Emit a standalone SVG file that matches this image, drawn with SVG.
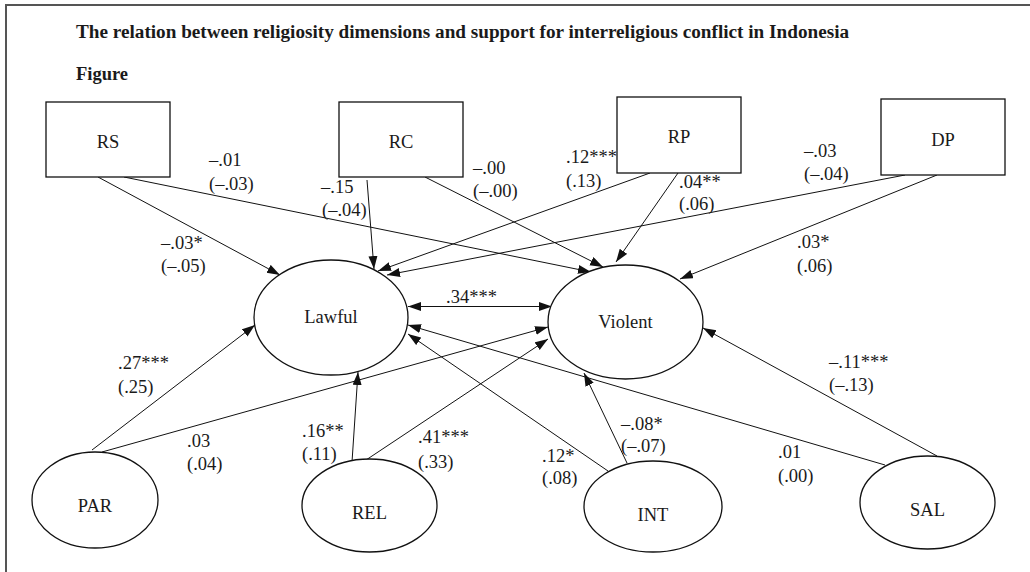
<svg xmlns="http://www.w3.org/2000/svg" width="1030" height="572" viewBox="0 0 1030 572">
<style>
text{font-family:"Liberation Serif","Times New Roman",serif;fill:#1a1a1a;font-size:18.5px}
.title{font-weight:bold}
.t1{font-size:19.2px}
.nd rect,.nd ellipse{fill:#fff;stroke:#111;stroke-width:1.3}
.nl{text-anchor:middle}
.edges line{stroke:#111;stroke-width:1}
.frame{stroke:#555;stroke-width:2;fill:none}
</style>
<defs>
<marker id="ah" markerUnits="userSpaceOnUse" markerWidth="14" markerHeight="10" refX="13" refY="4.5" orient="auto-start-reverse">
<path d="M0,0 L13,4.5 L0,9 z" fill="#111"/>
</marker>
</defs>
<rect width="1030" height="572" fill="#fff"/>
<path class="frame" d="M6,572 V5 H1030"/>
<text class="title t1" x="76" y="38">The relation between religiosity dimensions and support for interreligious conflict in Indonesia</text>
<text class="title" x="76" y="80">Figure</text>

<g class="edges">
<line x1="98" y1="177" x2="280" y2="275" marker-end="url(#ah)"/>
<line x1="124" y1="177" x2="591" y2="272" marker-end="url(#ah)"/>
<line x1="367" y1="180" x2="374" y2="269" marker-end="url(#ah)"/>
<line x1="425" y1="177" x2="603" y2="267" marker-end="url(#ah)"/>
<line x1="650" y1="173" x2="378" y2="271" marker-end="url(#ah)"/>
<line x1="678" y1="173" x2="616" y2="262" marker-end="url(#ah)"/>
<line x1="905" y1="175" x2="387" y2="275" marker-end="url(#ah)"/>
<line x1="937" y1="175" x2="680" y2="279" marker-end="url(#ah)"/>
<line x1="408" y1="306.5" x2="552" y2="306.5" marker-start="url(#ah)" marker-end="url(#ah)"/>
<line x1="92" y1="450" x2="255" y2="325" marker-end="url(#ah)"/>
<line x1="102" y1="452" x2="548" y2="327" marker-end="url(#ah)"/>
<line x1="352" y1="462" x2="358" y2="372" marker-end="url(#ah)"/>
<line x1="366" y1="460" x2="548" y2="339" marker-end="url(#ah)"/>
<line x1="608" y1="471" x2="408" y2="334" marker-end="url(#ah)"/>
<line x1="627" y1="463" x2="584" y2="373" marker-end="url(#ah)"/>
<line x1="885" y1="465" x2="408" y2="325" marker-end="url(#ah)"/>
<line x1="937" y1="456" x2="703" y2="328" marker-end="url(#ah)"/>
</g>

<g id="RS" class="nd"><rect x="46" y="102" width="124" height="75"/><text class="nl" x="108" y="148">RS</text></g>
<g id="RC" class="nd"><rect x="339" y="102" width="124" height="75"/><text class="nl" x="401" y="148">RC</text></g>
<g id="RP" class="nd"><rect x="617" y="97" width="124" height="76"/><text class="nl" x="679" y="143">RP</text></g>
<g id="DP" class="nd"><rect x="881" y="99" width="124" height="76"/><text class="nl" x="943" y="146">DP</text></g>
<g id="Lawful" class="nd"><ellipse cx="331" cy="317.5" rx="77" ry="57.5"/><text class="nl" x="331" y="323">Lawful</text></g>
<g id="Violent" class="nd"><ellipse cx="625.5" cy="322" rx="77.5" ry="57"/><text class="nl" x="625.5" y="328">Violent</text></g>
<g id="PAR" class="nd"><ellipse cx="95" cy="500" rx="63" ry="48"/><text class="nl" x="95" y="512">PAR</text></g>
<g id="REL" class="nd"><ellipse cx="369.5" cy="505.5" rx="67.5" ry="46.5"/><text class="nl" x="369.5" y="519">REL</text></g>
<g id="INT" class="nd"><ellipse cx="653" cy="506.5" rx="69" ry="45.5"/><text class="nl" x="653" y="521">INT</text></g>
<g id="SAL" class="nd"><ellipse cx="927.5" cy="502.5" rx="67.5" ry="46.5"/><text class="nl" x="927.5" y="516">SAL</text></g>

<g class="labels">
<text x="161" y="249">–.03*</text><text x="161" y="272">(–.05)</text>
<text x="209" y="166">–.01</text><text x="209" y="190">(–.03)</text>
<text x="321" y="193">–.15</text><text x="322" y="216">(–.04)</text>
<text x="473" y="174">–.00</text><text x="473" y="197">(–.00)</text>
<text x="566" y="163">.12***</text><text x="566" y="187">(.13)</text>
<text x="679" y="188">.04**</text><text x="679" y="210">(.06)</text>
<text x="804" y="157">–.03</text><text x="804" y="180">(–.04)</text>
<text x="797" y="248">.03*</text><text x="797" y="272">(.06)</text>
<text x="446" y="303">.34***</text>
<text x="118" y="369">.27***</text><text x="118" y="393">(.25)</text>
<text x="187" y="447">.03</text><text x="187" y="470">(.04)</text>
<text x="302" y="437">.16**</text><text x="302" y="460">(.11)</text>
<text x="418" y="443">.41***</text><text x="418" y="468">(.33)</text>
<text x="542" y="462">.12*</text><text x="542" y="484">(.08)</text>
<text x="621" y="430">–.08*</text><text x="621" y="452">(–.07)</text>
<text x="778" y="458">.01</text><text x="778" y="482">(.00)</text>
<text x="829" y="368">–.11***</text><text x="829" y="391">(–.13)</text>
</g>
</svg>
